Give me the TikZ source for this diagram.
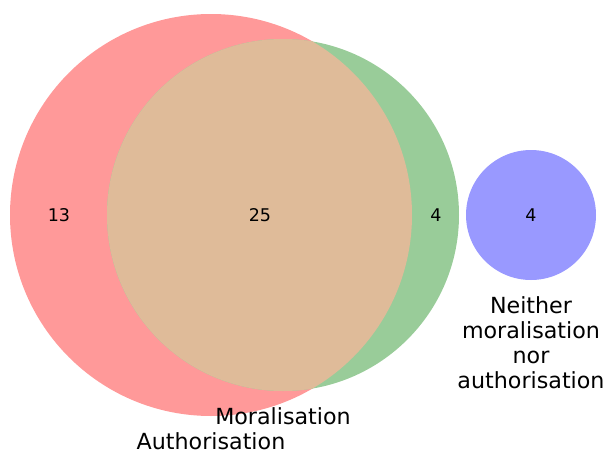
\documentclass[tikz,border=0pt]{standalone}
\usepackage{fontspec}
\setmainfont{DejaVu Sans}
\definecolor{setA}{RGB}{255,153,153}
\definecolor{setB}{RGB}{153,204,153}
\definecolor{setAB}{RGB}{223,187,153}
\definecolor{setC}{RGB}{153,153,255}
\tikzset{
  count/.style={font=\fontsize{17.5}{20}\selectfont, inner sep=0pt},
  setlabel/.style={font=\fontsize{22.2}{25}\selectfont, inner sep=0pt, align=center},
}
\begin{document}
\begin{tikzpicture}[x=1pt,y=-1pt]
  \useasboundingbox (0,0) rectangle (606,450);
  % the three sets
  \fill[setA] (211,215) circle (201);
  \fill[setB] (283,215) circle (176);
  \begin{scope}
    \clip (211,215) circle (201);
    \fill[setAB] (283,215) circle (176);
  \end{scope}
  \fill[setC] (531,215) circle (65);
  % region counts
  \node[count] (onlyA) at (59,215) {13};
  \node[count] (both) at (260,215) {25};
  \node[count] (onlyB) at (436,215) {4};
  \node[count] (none) at (531,215) {4};
  % set labels
  \node[setlabel] (labB) at (283,416) {Moralisation};
  \node[setlabel] (labA) at (211,441) {Authorisation};
  \node[setlabel] (labC) at (531,343) {Neither\\moralisation\\nor\\authorisation};
\end{tikzpicture}
\end{document}
